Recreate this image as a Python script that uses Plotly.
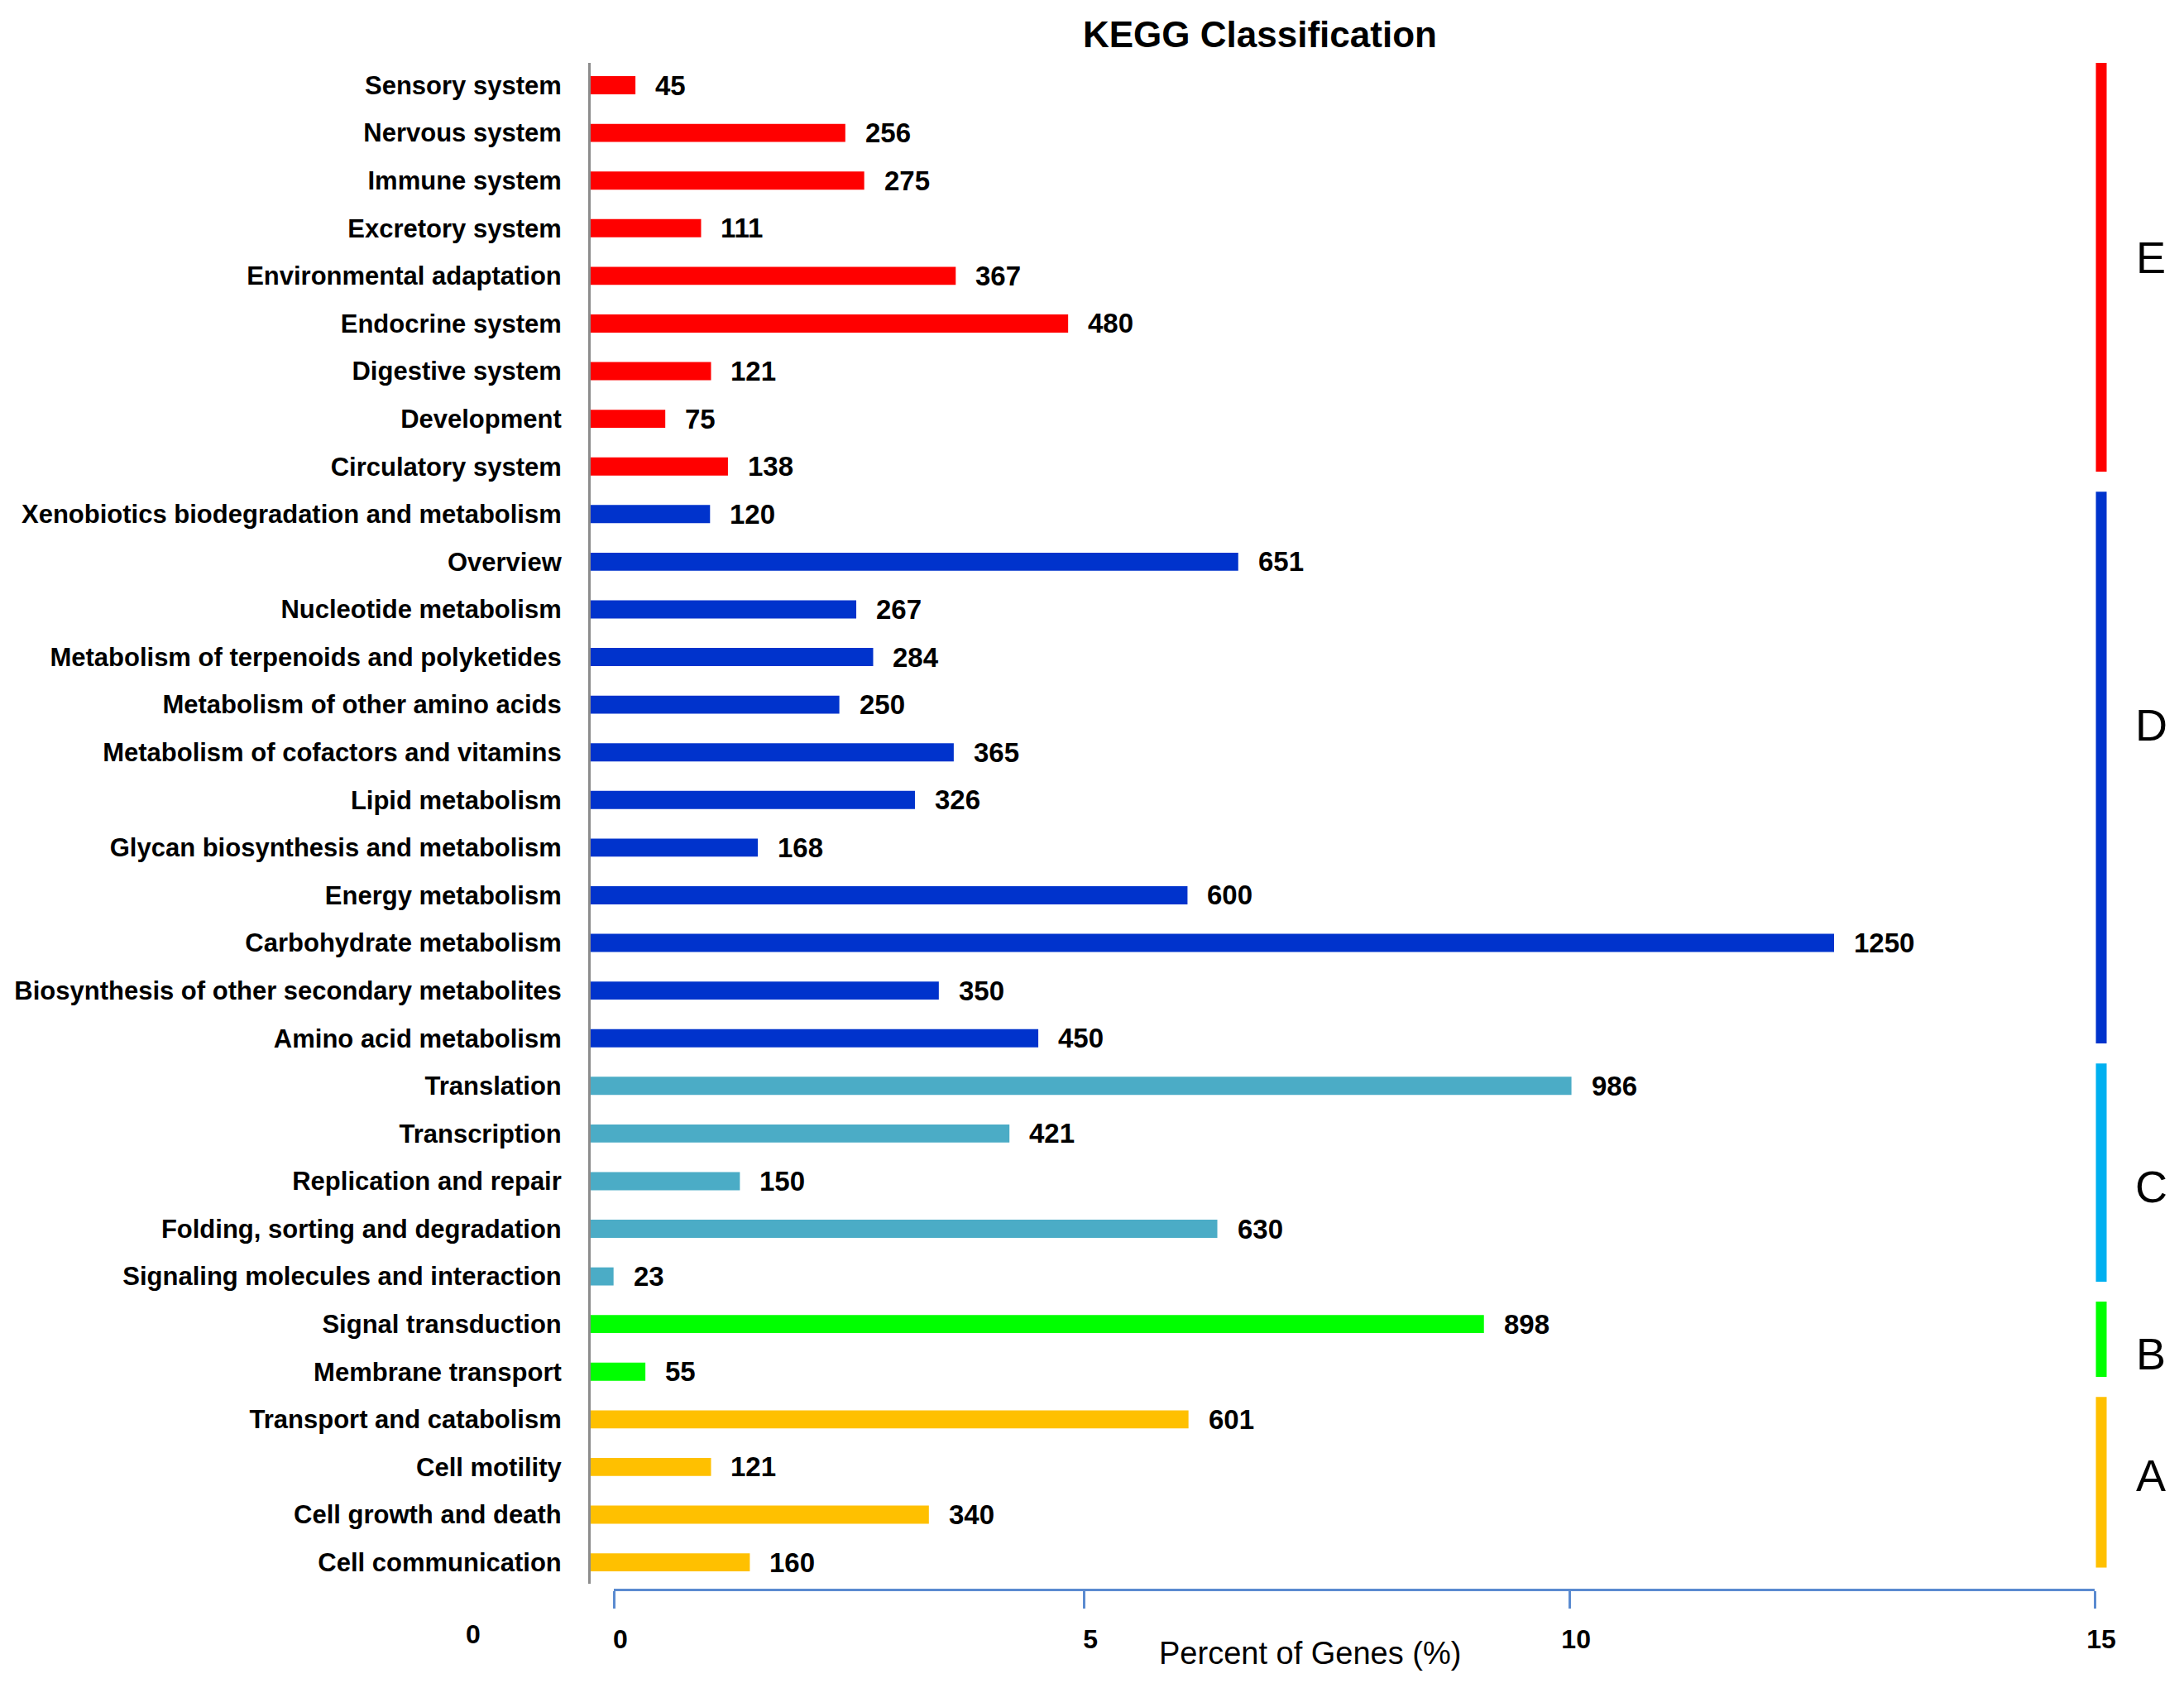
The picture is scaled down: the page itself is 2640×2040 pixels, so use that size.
import plotly.graph_objects as go

# ---------------- data (top -> bottom order as in the reference) ----------------
group_E_cats = ["Sensory system", "Nervous system", "Immune system", "Excretory system",
                "Environmental adaptation", "Endocrine system", "Digestive system",
                "Development", "Circulatory system"]
group_E_vals = [45, 256, 275, 111, 367, 480, 121, 75, 138]

group_D_cats = ["Xenobiotics biodegradation and metabolism", "Overview", "Nucleotide metabolism",
                "Metabolism of terpenoids and polyketides", "Metabolism of other amino acids",
                "Metabolism of cofactors and vitamins", "Lipid metabolism",
                "Glycan biosynthesis and metabolism", "Energy metabolism",
                "Carbohydrate metabolism", "Biosynthesis of other secondary metabolites",
                "Amino acid metabolism"]
group_D_vals = [120, 651, 267, 284, 250, 365, 326, 168, 600, 1250, 350, 450]

group_C_cats = ["Translation", "Transcription", "Replication and repair",
                "Folding, sorting and degradation", "Signaling molecules and interaction"]
group_C_vals = [986, 421, 150, 630, 23]

group_B_cats = ["Signal transduction", "Membrane transport"]
group_B_vals = [898, 55]

group_A_cats = ["Transport and catabolism", "Cell motility", "Cell growth and death",
                "Cell communication"]
group_A_vals = [601, 121, 340, 160]

pct_tick_text = ["0", "5", "10", "15"]

# ---------------- styles ----------------
bar_colors = {"E": "#FF0000", "D": "#0033CC", "C": "#4BACC6", "B": "#00FF00", "A": "#FFC000"}
side_colors = {"E": "#FF0000", "D": "#0033CC", "C": "#00B0F0", "B": "#00FF00", "A": "#FFC000"}
letter_yshift = {"E": 12, "D": 52, "C": -17, "B": -17, "A": 8}   # pixel nudges
SANS = "Liberation Sans, Arial, sans-serif"

W, H = 2640, 2040
def px(x):
    return x / W
def py(y):
    return 1 - y / H

groups = [("E", group_E_cats, group_E_vals), ("D", group_D_cats, group_D_vals),
          ("C", group_C_cats, group_C_vals), ("B", group_B_cats, group_B_vals),
          ("A", group_A_cats, group_A_vals)]

cats_top_down, vals_top_down, cols_top_down = [], [], []
for g, cs, vs in groups:
    cats_top_down += cs
    vals_top_down += vs
    cols_top_down += [bar_colors[g]] * len(cs)
cats = cats_top_down[::-1]
vals = vals_top_down[::-1]
cols = cols_top_down[::-1]
n = len(cats)

fig = go.Figure()
fig.add_trace(go.Bar(
    x=vals, y=cats, orientation="h", marker=dict(color=cols, line=dict(width=0)),
    width=0.38, hoverinfo="x+y", showlegend=False,
))
# carrier for the percent axis
fig.add_trace(go.Scatter(x=[], y=[], xaxis="x2", yaxis="y", showlegend=False,
                         hoverinfo="skip"))

annotations = []
for c, v in zip(cats, vals):
    annotations.append(dict(x=v, y=c, xref="x", yref="y", text=str(v), showarrow=False,
                            xanchor="left", yanchor="middle", xshift=22,
                            font=dict(family=SANS, size=33, color="black", weight="bold")))

shapes = []
for g, cs, vs in groups:
    top_idx = cats.index(cs[0])
    bot_idx = cats.index(cs[-1])
    y0 = bot_idx - 0.11
    y1 = top_idx + 0.47
    shapes.append(dict(type="line", xref="paper", yref="y", x0=px(2540), x1=px(2540),
                       y0=y0, y1=y1, line=dict(color=side_colors[g], width=13)))
    annotations.append(dict(x=px(2600), y=(y0 + y1) / 2, xref="paper", yref="y",
                            text=g, showarrow=False, xanchor="center", yanchor="middle",
                            yshift=letter_yshift[g],
                            font=dict(family=SANS, size=54, color="black")))

annotations.append(dict(x=px(1523), y=py(41), xref="paper", yref="paper",
                        text="KEGG Classification", showarrow=False,
                        xanchor="center", yanchor="middle",
                        font=dict(family=SANS, size=44, color="black", weight="bold")))
annotations.append(dict(x=px(1583), y=py(1998), xref="paper", yref="paper",
                        text="Percent of Genes (%)", showarrow=False,
                        xanchor="center", yanchor="middle",
                        font=dict(family=SANS, size=38, color="black")))
annotations.append(dict(x=px(572), y=py(1975), xref="paper", yref="paper",
                        text="0", showarrow=False, xanchor="center", yanchor="middle",
                        font=dict(family=SANS, size=32, color="black", weight="bold")))

count_per_px = 1 / 1.2024
fig.update_layout(
    width=W, height=H, margin=dict(l=0, r=0, t=0, b=0),
    paper_bgcolor="white", plot_bgcolor="rgba(0,0,0,0)", template="none",
    xaxis=dict(domain=[px(714), px(2532)], range=[0, (2532 - 714) * count_per_px],
               visible=False, fixedrange=True),
    yaxis=dict(domain=[py(1914), py(76)], type="category", categoryorder="array",
               categoryarray=cats, range=[-0.45, n - 1 + 0.47],
               showline=True, linecolor="#8C8C8C", linewidth=3, showgrid=False,
               zeroline=False, ticks="outside", ticklen=26, tickcolor="rgba(0,0,0,0)",
               tickfont=dict(family=SANS, size=31, color="black", weight="bold"),
               automargin=False),
    xaxis2=dict(domain=[px(742), px(2532)], anchor="free", position=py(1921),
                range=[0, 15], showline=True, linecolor="#5B8BD0", linewidth=3,
                ticks="outside", ticklen=21, tickwidth=3, tickcolor="#5B8BD0",
                tickvals=[0, 4.76, 9.68, 15], ticktext=pct_tick_text,
                tickfont=dict(family=SANS, size=32, color="black", weight="bold"),
                ticklabelstandoff=10, ticklabelshift=8,
                showgrid=False, zeroline=False, automargin=False),
    annotations=annotations, shapes=shapes,
)

fig.write_html("out.html", config={"displayModeBar": False},
               post_script="document.body.style.margin='0px';")
